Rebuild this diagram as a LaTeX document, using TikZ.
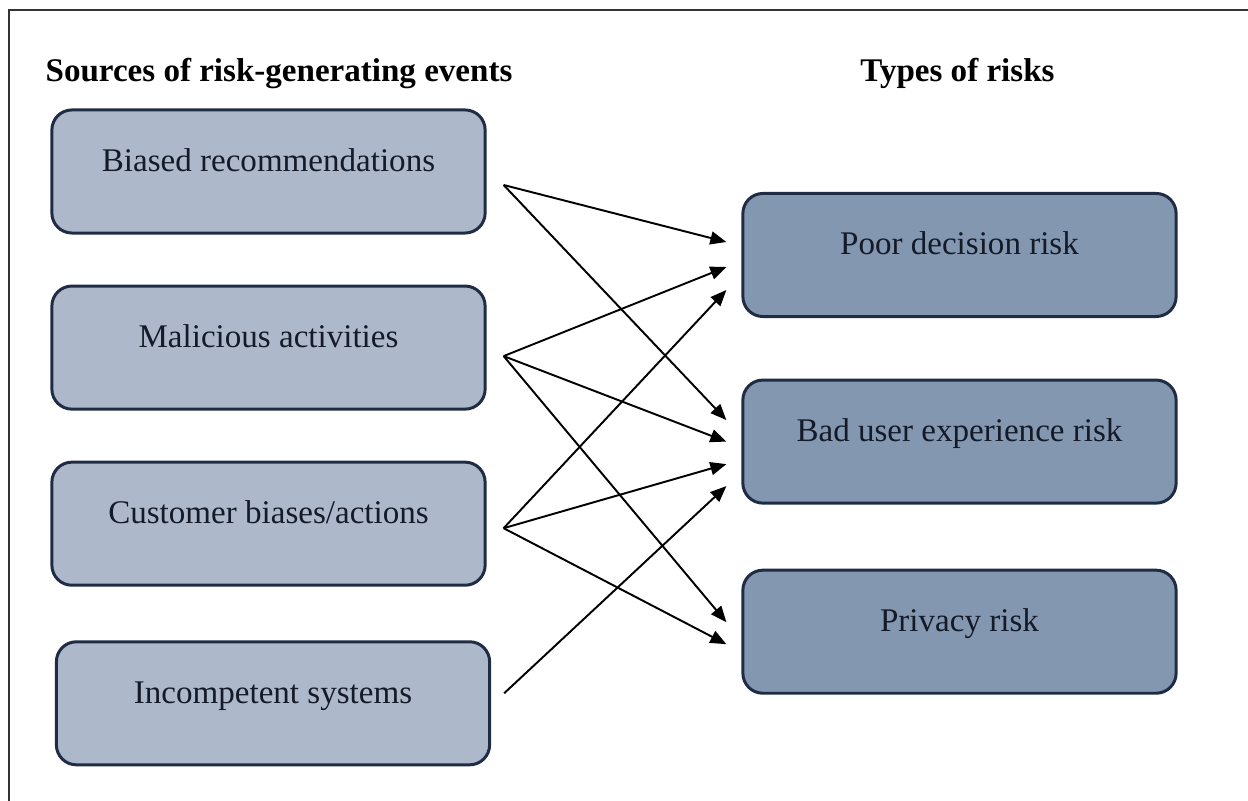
\documentclass[tikz,border=0pt]{standalone}
\usepackage{fontspec}
\setmainfont{Liberation Serif}
\usetikzlibrary{arrows.meta, calc, positioning}

\definecolor{srcfill}{HTML}{ADB9CA}
\definecolor{riskfill}{HTML}{8497B0}
\definecolor{boxline}{HTML}{1F2C44}
\definecolor{textnavy}{HTML}{141A28}

\tikzstyle{source} = [rectangle, rounded corners=0.2cm, minimum width=4.33cm, minimum height=1.23cm, text height=0.3cm, text depth=0.3cm, inner sep=0pt, text centered, fill=srcfill, draw=boxline, line width=0.85pt, text=textnavy]
\tikzstyle{risk} = [source, fill=riskfill]
\tikzstyle{heading} = [font=\fontsize{9.4}{11.3}\selectfont\bfseries, anchor=base, inner sep=0pt]
\tikzstyle{arrow} = [line width=0.55pt, -{Triangle[length=0.16cm, width=0.13cm]}]

\begin{document}
\begin{tikzpicture}[x=0.01cm, y=0.01cm, node distance=1.76cm, every node/.style={font=\fontsize{9.4}{11.3}\selectfont}]
\useasboundingbox (0,0) rectangle (1248,-801);

% frame
\draw [line width=0.7pt, draw=black!80] (9,-801) -- (9,-10) -- (1248,-10);

\node (head_src) [heading, anchor=base west] at (45,-82) {Sources of risk-generating events};
\node (head_risk) [heading] at (957.5,-82) {Types of risks};

\node (biased) [source] at (268.5,-171.5) {Biased recommendations};
\node (malicious) [source, below of=biased] {Malicious activities};
\node (customer) [source, below of=malicious] {Customer biases/actions};
\node (incompetent) [source, below of=customer, xshift=0.045cm, yshift=-0.035cm] {Incompetent systems};

\node (poor) [risk] at (959.5,-255) {Poor decision risk};
\node (bad) [risk, below of=poor, yshift=-0.105cm] {Bad user experience risk};
\node (privacy) [risk, below of=bad, yshift=-0.14cm] {Privacy risk};

% where the arrows leave and arrive
\coordinate (biased_out) at ($ (biased.east) + (0.17cm, -0.135cm) $);
\coordinate (malicious_out) at ($ (malicious.east) + (0.17cm, -0.085cm) $);
\coordinate (customer_out) at ($ (customer.east) + (0.17cm, -0.045cm) $);
\coordinate (incompetent_out) at ($ (incompetent.east) + (0.13cm, 0.10cm) $);

\coordinate (poor_in1) at ($ (poor.west) + (-0.15cm, 0.13cm) $);
\coordinate (poor_in2) at ($ (poor.west) + (-0.15cm, -0.12cm) $);
\coordinate (poor_in3) at ($ (poor.west) + (-0.15cm, -0.35cm) $);
\coordinate (bad_in1) at ($ (bad.west) + (-0.15cm, 0.215cm) $);
\coordinate (bad_in2) at ($ (bad.west) + (-0.15cm, 0cm) $);
\coordinate (bad_in3) at ($ (bad.west) + (-0.15cm, -0.225cm) $);
\coordinate (bad_in4) at ($ (bad.west) + (-0.15cm, -0.445cm) $);
\coordinate (privacy_in1) at ($ (privacy.west) + (-0.15cm, 0.095cm) $);
\coordinate (privacy_in2) at ($ (privacy.west) + (-0.15cm, -0.125cm) $);

\draw [arrow] (biased_out) -- (poor_in1);
\draw [arrow] (biased_out) -- (bad_in1);

\draw [arrow] (malicious_out) -- (poor_in2);
\draw [arrow] (malicious_out) -- (bad_in2);
\draw [arrow] (malicious_out) -- (privacy_in1);

\draw [arrow] (customer_out) -- (poor_in3);
\draw [arrow] (customer_out) -- (bad_in3);
\draw [arrow] (customer_out) -- (privacy_in2);

\draw [arrow] (incompetent_out) -- (bad_in4);

\end{tikzpicture}
\end{document}
